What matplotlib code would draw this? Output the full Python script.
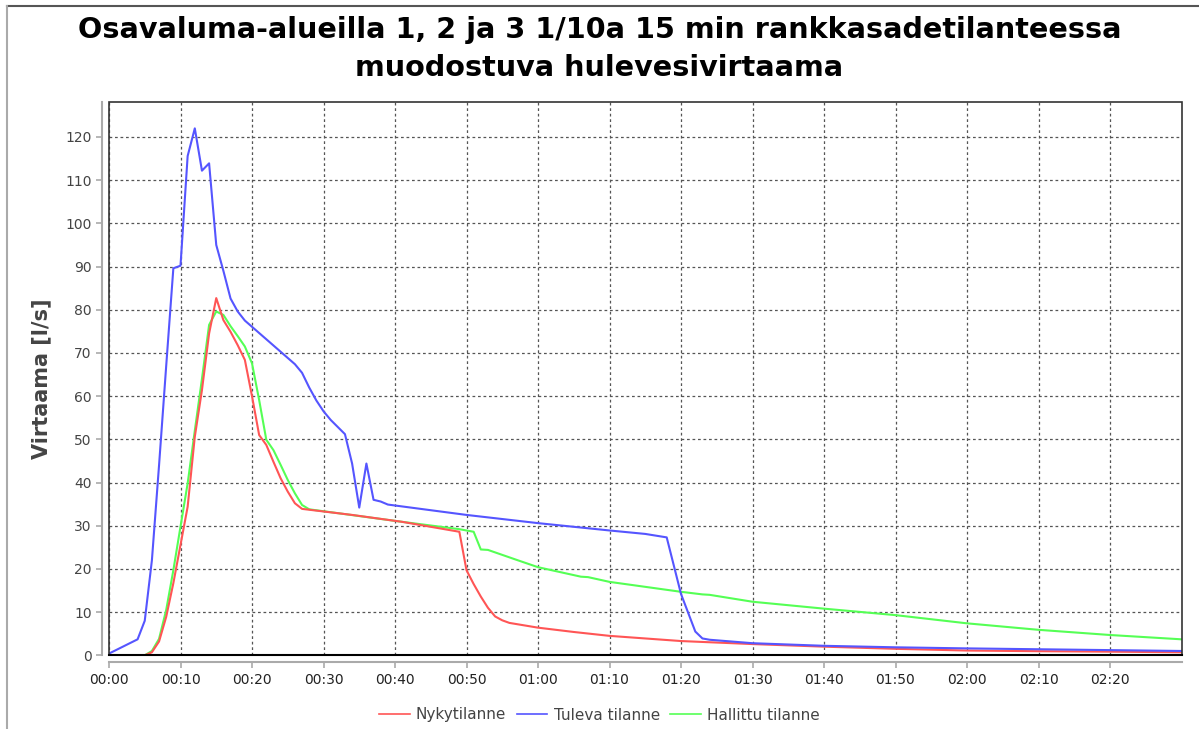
import matplotlib.pyplot as plt
from matplotlib.lines import Line2D
from matplotlib.patches import Rectangle

# time in minutes, values in l/s (vertices)
nyky_t = [0, 5, 6, 7, 8, 9, 11, 12, 13, 14, 15, 16, 17, 18, 19, 20, 21, 22, 23, 24, 25,
          26, 27, 34, 41, 49, 50, 51, 52, 53, 54, 55, 56, 60, 65, 70, 80, 90, 100, 110,
          120, 130, 140, 150]
nyky_v = [0, 0, 0.7, 3.2, 8.9, 16.7, 34.4, 50.6, 61.4, 74.5, 82.7, 77.6, 74.9, 71.8,
          68.4, 60.0, 51.0, 48.7, 44.8, 41.0, 37.9, 35.2, 33.9, 32.5, 30.9, 28.6, 19.7,
          16.5, 13.6, 11.0, 9.0, 8.1, 7.5, 6.4, 5.4, 4.5, 3.3, 2.6, 2.0, 1.5, 1.1, 0.95,
          0.84, 0.7]

tuleva_t = [0, 4, 5, 6, 7, 8, 9, 10, 11, 12, 13, 14, 15, 16, 17, 18, 19, 26, 27, 28, 29,
            30, 31, 33, 34, 35, 36, 37, 38, 39, 50, 60, 70, 75, 78, 80, 82, 83, 84, 90,
            100, 110, 120, 130, 140, 150]
tuleva_v = [0.4, 3.7, 8.0, 22.0, 44.0, 67.0, 89.6, 90.2, 115.6, 122.0, 112.2, 113.9,
            95.0, 89.0, 82.6, 79.6, 77.5, 67.4, 65.4, 62.0, 59.0, 56.5, 54.5, 51.2, 44.4,
            34.2, 44.4, 36.0, 35.6, 34.9, 32.5, 30.6, 28.9, 28.1, 27.3, 14.2, 5.5, 3.9,
            3.6, 2.8, 2.2, 1.85, 1.6, 1.4, 1.2, 1.0]

hallittu_t = [0, 5, 6, 7, 8, 9, 10, 11, 12, 13, 14, 15, 16, 17, 18, 19, 20, 21, 22, 23,
              24, 25, 26, 27, 28, 41, 49, 51, 52, 53, 57, 60, 66, 67, 70, 80, 83, 84, 90,
              100, 110, 120, 130, 140, 150]
hallittu_v = [0, 0, 1.0, 3.8, 10.5, 19.7, 29.8, 39.8, 52.0, 64.0, 76.5, 79.6, 78.8,
              76.2, 73.9, 71.5, 67.6, 59.1, 49.9, 47.5, 44.1, 40.6, 37.5, 34.8, 33.8,
              30.9, 29.2, 28.6, 24.5, 24.4, 22.1, 20.4, 18.2, 18.1, 17.0, 14.7, 14.1,
              14.0, 12.4, 10.8, 9.3, 7.4, 5.9, 4.7, 3.7]

tick_min = list(range(0, 150, 10))
tick_labels = ["%02d:%02d" % (m // 60, m % 60) for m in tick_min]
y_ticks = list(range(0, 130, 10))

fig = plt.figure(figsize=(11.99, 7.29), dpi=100)
ax = fig.add_axes([109 / 1199, 1 - 655.3 / 729, (1181.5 - 109) / 1199, (655.3 - 102) / 729])

ax.plot(nyky_t, nyky_v, color="#FF5555", lw=1.5, label="Nykytilanne", zorder=3)
ax.plot(tuleva_t, tuleva_v, color="#5555FF", lw=1.5, label="Tuleva tilanne", zorder=3)
ax.plot(hallittu_t, hallittu_v, color="#55FF55", lw=1.5, label="Hallittu tilanne", zorder=2)

ax.set_xlim(0, 150)
ax.set_ylim(0, 128.1)
ax.set_xticks(tick_min)
ax.set_xticklabels(tick_labels, fontsize=10.5, color="#222222")
ax.set_yticks(y_ticks)
ax.set_yticklabels([str(v) for v in y_ticks], fontsize=12, color="#444444")
ax.grid(True, color="#555555", linestyle=(0, (2.2, 2.2)), lw=0.9)

# offset axis lines like in the original
for s in ["top", "right"]:
    ax.spines[s].set_visible(False)
for s in ["left", "bottom"]:
    ax.spines[s].set_position(("outward", 5))
    ax.spines[s].set_color("#aaaaaa")
    ax.spines[s].set_linewidth(1.5)
ax.tick_params(axis="both", colors="#aaaaaa", length=4, width=1.2)
for lab in ax.get_xticklabels():
    lab.set_color("#222222")
for lab in ax.get_yticklabels():
    lab.set_color("#444444")
ax.add_patch(Rectangle((0, 0), 1, 1, transform=ax.transAxes, fill=False,
                       edgecolor="#333333", lw=1.2, clip_on=False, zorder=5))
ax.plot([0, 1], [0, 0], transform=ax.transAxes, color="black", lw=1.5, clip_on=False, zorder=6)

ax.set_ylabel("Virtaama [l/s]", fontsize=15, fontweight="bold", color="#444444", labelpad=10)

fig.text(0.5, 1 - 30 / 729, "Osavaluma-alueilla 1, 2 ja 3 1/10a 15 min rankkasadetilanteessa",
         ha="center", va="center", fontsize=20.6, fontweight="bold")
fig.text(0.5, 1 - 68 / 729, "muodostuva hulevesivirtaama",
         ha="center", va="center", fontsize=20.6, fontweight="bold")

handles, labels = ax.get_legend_handles_labels()
leg = fig.legend(handles, labels, loc="center", bbox_to_anchor=(0.5, 1 - 715 / 729), ncol=3,
                 frameon=False, fontsize=11, handlelength=2.0, handletextpad=0.4,
                 columnspacing=0.7)
for t in leg.get_texts():
    t.set_color("#444444")
for h in leg.get_lines():
    h.set_linewidth(1.2)

# screenshot frame
fig.add_artist(Line2D([7 / 1199, 1], [1 - 6 / 729, 1 - 6 / 729], color="#555555", lw=1.5))
fig.add_artist(Line2D([7 / 1199, 7 / 1199], [0, 1 - 6 / 729], color="#aaaaaa", lw=1.5))

fig.savefig("out.png", dpi=100)
